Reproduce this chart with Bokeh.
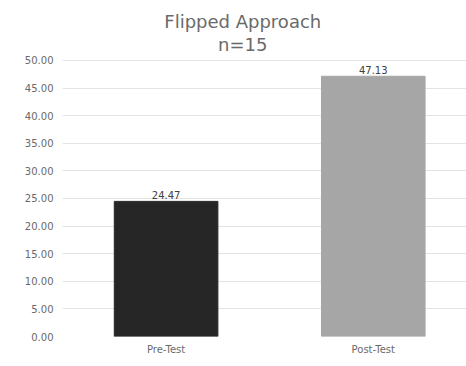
from bokeh.plotting import figure
from bokeh.models import ColumnDataSource, FixedTicker, Range1d, Label, LabelSet
from bokeh.core.properties import value
from bokeh.embed import file_html
from bokeh.resources import INLINE

categories = ["Pre-Test", "Post-Test"]
values = [24.47, 47.13]
colors = ["#262626", "#a6a6a6"]
title_lines = ["Flipped Approach", "n=15"]
y_ticks = [0, 5, 10, 15, 20, 25, 30, 35, 40, 45, 50]

xs = [i + 0.5 for i in range(len(categories))]
src = ColumnDataSource(dict(x=xs, top=values, color=colors,
                            label=["%.2f" % v for v in values]))

p = figure(width=466, height=366, output_backend="svg", toolbar_location=None,
           x_range=Range1d(0, 1.95), y_range=Range1d(0, 59.4))
p.min_border_left = 62
p.min_border_right = 0
p.min_border_top = 8
p.min_border_bottom = 30
p.outline_line_color = None
p.background_fill_color = "white"
p.border_fill_color = "white"

p.vbar(x="x", top="top", width=0.5, color="color", source=src)

labels = LabelSet(x="x", y="top", text="label", source=src, text_align="center",
                  text_baseline="bottom", y_offset=2, text_font_size="10px",
                  text_color="#404040", text_font=value("DejaVu Sans"))
p.add_layout(labels)

p.xaxis.ticker = FixedTicker(ticks=xs)
p.xaxis.major_label_overrides = {x: c for x, c in zip(xs, categories)}
p.yaxis.ticker = FixedTicker(ticks=y_ticks)
p.yaxis.major_label_overrides = {t: "%.2f" % t for t in y_ticks}
for ax in (p.xaxis, p.yaxis):
    ax.axis_line_color = None
    ax.major_tick_line_color = None
    ax.minor_tick_line_color = None
    ax.major_tick_out = 0
    ax.major_tick_in = 0
    ax.major_label_text_font_size = "10px"
    ax.major_label_text_color = "#6a6a6a"
    ax.major_label_text_font = "DejaVu Sans"
p.yaxis.major_label_standoff = 9
p.xaxis.major_label_standoff = 7
p.xgrid.grid_line_color = None
p.ygrid.grid_line_color = "#e3e3e3"

p.add_layout(Label(x=0.87, y=57.0, text=title_lines[0], text_align="center",
                   text_baseline="middle", text_font_size="18px",
                   text_color="#6a6a6a", text_font="DejaVu Sans"))
p.add_layout(Label(x=0.87, y=52.9, text=title_lines[1], text_align="center",
                   text_baseline="middle", text_font_size="18px",
                   text_color="#6a6a6a", text_font="DejaVu Sans"))

open("out.html", "w").write(file_html(p, INLINE))
